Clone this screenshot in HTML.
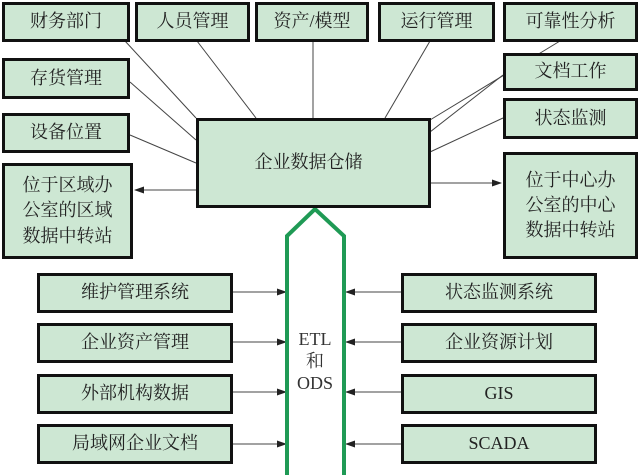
<!DOCTYPE html>
<html><head><meta charset="utf-8"><style>
body{margin:0;width:640px;height:475px;background:#fff;position:relative;overflow:hidden;font-family:"Liberation Serif","Noto Serif CJK SC","Noto Sans CJK SC",serif;}
.b{position:absolute;background:#cde7d3;border:3px solid #111;box-sizing:border-box;display:flex;align-items:center;justify-content:center;text-align:center;font-size:18px;color:#222;line-height:1.4;}
</style></head><body>
<svg width="640" height="475" style="position:absolute;left:0;top:0">
<defs><marker id="a" markerWidth="10" markerHeight="10" refX="9" refY="5" orient="auto" markerUnits="userSpaceOnUse"><path d="M0,1.5 L10,5 L0,8.5z" fill="#222"/></marker></defs>
<g stroke="#444" stroke-width="1" fill="none">
<line x1="125" y1="41" x2="196" y2="118"/>
<line x1="197" y1="41" x2="256" y2="118"/>
<line x1="313" y1="41" x2="313" y2="118"/>
<line x1="430" y1="41" x2="385" y2="118"/>
<line x1="560" y1="41" x2="430" y2="120"/>
<line x1="130" y1="82" x2="196" y2="140"/>
<line x1="130" y1="135" x2="196" y2="163"/>
<line x1="503" y1="75" x2="430" y2="132"/>
<line x1="503" y1="118" x2="430" y2="152"/>
<line x1="196" y1="190" x2="135" y2="190" marker-end="url(#a)"/>
<line x1="430" y1="183" x2="501" y2="183" marker-end="url(#a)"/>
<line x1="232" y1="292" x2="286" y2="292" marker-end="url(#a)"/>
<line x1="232" y1="342" x2="286" y2="342" marker-end="url(#a)"/>
<line x1="232" y1="392" x2="286" y2="392" marker-end="url(#a)"/>
<line x1="232" y1="444" x2="286" y2="444" marker-end="url(#a)"/>
<line x1="402" y1="292" x2="346" y2="292" marker-end="url(#a)"/>
<line x1="402" y1="342" x2="346" y2="342" marker-end="url(#a)"/>
<line x1="402" y1="392" x2="346" y2="392" marker-end="url(#a)"/>
<line x1="402" y1="444" x2="346" y2="444" marker-end="url(#a)"/>
</g>
<path d="M287,478 L287,236 L315,209 L344,236 L344,478" fill="#fff" stroke="#1f9a55" stroke-width="4"/>
<text x="315" y="345" font-size="18" text-anchor="middle" fill="#333" font-family="Liberation Serif,serif">ETL</text>
<text x="315" y="367" font-size="18" text-anchor="middle" fill="#333" font-family="Liberation Serif,'Noto Serif CJK SC',serif">和</text>
<text x="315" y="389" font-size="18" text-anchor="middle" fill="#333" font-family="Liberation Serif,serif">ODS</text>
</svg>
<div class="b" style="left:2px;top:2px;width:128px;height:40px">财务部门</div>
<div class="b" style="left:135px;top:2px;width:115px;height:40px">人员管理</div>
<div class="b" style="left:255px;top:2px;width:114px;height:40px">资产/模型</div>
<div class="b" style="left:378px;top:2px;width:117px;height:40px">运行管理</div>
<div class="b" style="left:503px;top:2px;width:135px;height:40px">可靠性分析</div>
<div class="b" style="left:2px;top:58px;width:128px;height:41px">存货管理</div>
<div class="b" style="left:2px;top:113px;width:128px;height:40px">设备位置</div>
<div class="b" style="left:2px;top:163px;width:131px;height:96px">位于区域办<br>公室的区域<br>数据中转站</div>
<div class="b" style="left:196px;top:118px;width:235px;height:90px;padding-right:10px">企业数据仓储</div>
<div class="b" style="left:503px;top:53px;width:135px;height:38px">文档工作</div>
<div class="b" style="left:503px;top:98px;width:135px;height:41px">状态监测</div>
<div class="b" style="left:503px;top:152px;width:135px;height:107px">位于中心办<br>公室的中心<br>数据中转站</div>
<div class="b" style="left:37px;top:273px;width:196px;height:40px">维护管理系统</div>
<div class="b" style="left:37px;top:323px;width:196px;height:40px">企业资产管理</div>
<div class="b" style="left:37px;top:374px;width:196px;height:40px">外部机构数据</div>
<div class="b" style="left:37px;top:424px;width:196px;height:40px">局域网企业文档</div>
<div class="b" style="left:401px;top:273px;width:196px;height:40px">状态监测系统</div>
<div class="b" style="left:401px;top:323px;width:196px;height:40px">企业资源计划</div>
<div class="b" style="left:401px;top:374px;width:196px;height:40px">GIS</div>
<div class="b" style="left:401px;top:424px;width:196px;height:40px">SCADA</div>
</body></html>
